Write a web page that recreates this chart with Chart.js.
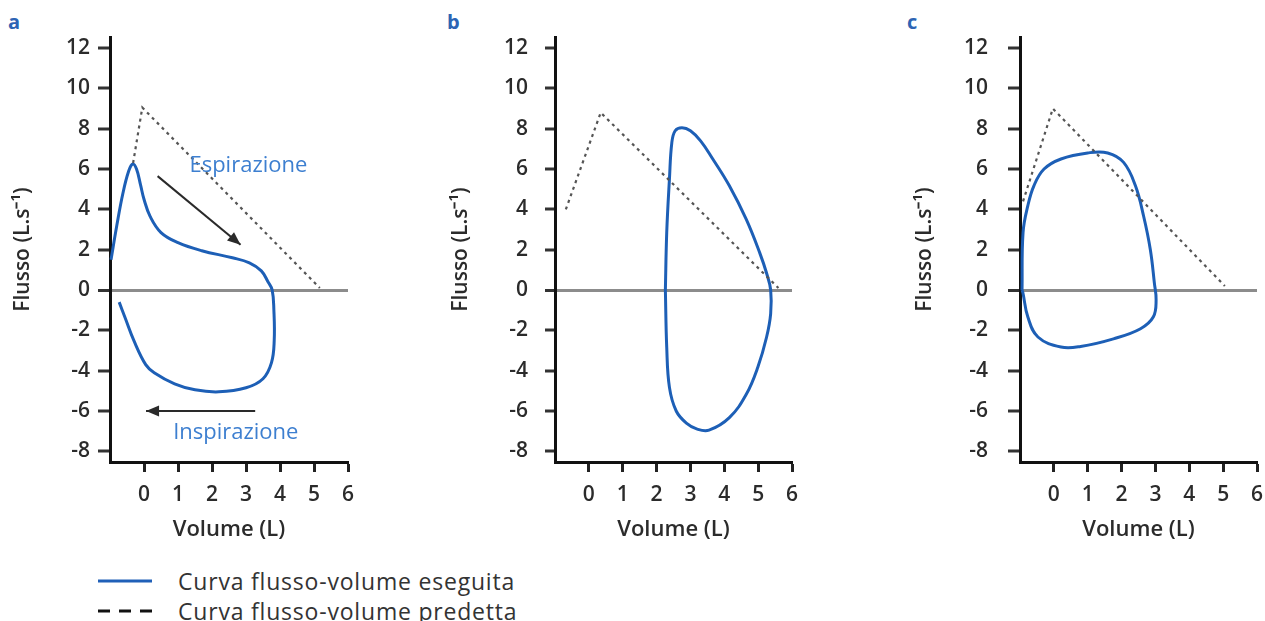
<!DOCTYPE html>
<html><head><meta charset="utf-8">
<script src="https://cdn.jsdelivr.net/npm/chart.js@4.4.1/dist/chart.umd.min.js"></script>
<style>
html,body{margin:0;padding:0;background:#fff;}
body{width:1265px;height:621px;overflow:hidden;position:relative;font-family:"Open Sans",sans-serif;}
canvas{position:absolute;top:0;}
.letter{position:absolute;top:8px;font-weight:bold;font-size:20px;color:#2d64b4;font-family:"Open Sans",sans-serif;}
.legend{position:absolute;left:98px;top:566px;font-size:23px;letter-spacing:0.8px;color:#333;}
.row{display:flex;align-items:center;height:30px;white-space:nowrap;}
.row svg{margin-right:26px;}
</style></head><body>
<div class="letter" style="left:8px">a</div>
<div class="letter" style="left:447px">b</div>
<div class="letter" style="left:907px">c</div>
<canvas id="ca" width="370" height="550" style="left:0px"></canvas>
<canvas id="cb" width="372" height="550" style="left:440px"></canvas>
<canvas id="cc" width="380" height="550" style="left:900px"></canvas>
<div class="legend">
  <div class="row"><svg width="54" height="6"><line x1="0" y1="3" x2="54" y2="3" stroke="#2060b8" stroke-width="3"/></svg><span id="leg1"></span></div>
  <div class="row"><svg width="54" height="6"><line x1="0" y1="3" x2="54" y2="3" stroke="#111" stroke-width="3" stroke-dasharray="12 9"/></svg><span id="leg2"></span></div>
</div>
<script>
// ---- axis ticks ----
const volumeTicks = [0, 1, 2, 3, 4, 5, 6];
const flowTicks = [-8, -6, -4, -2, 0, 2, 4, 6, 8, 10, 12];
const volumeRange = [-1, 6];
const flowRange = [-8.53, 12.55];

// ---- text ----
const panelTitles = ['a', 'b', 'c'];
const xTitle = 'Volume (L)';
const yTitle = 'Flusso (L.s\u207B\u00B9)';
const legendLabels = ['Curva flusso-volume eseguita', 'Curva flusso-volume predetta'];

// ---- panel a ----
const aMeasuredVol  = [-0.97, -0.8, -0.62, -0.45, -0.33, -0.22, -0.1, 0.0, 0.18, 0.5, 1.0, 1.7, 2.6, 3.1, 3.45, 3.65, 3.77, 3.82, 3.83, 3.75, 3.5, 3.0, 2.2, 1.5, 0.9, 0.3, 0.05, -0.3, -0.55, -0.73];
const aMeasuredFlow = [1.5, 3.2, 4.8, 5.9, 6.25, 6.0, 5.2, 4.5, 3.65, 2.85, 2.35, 1.95, 1.6, 1.35, 0.95, 0.4, 0.0, -1.0, -2.5, -3.6, -4.4, -4.85, -5.05, -4.95, -4.65, -4.1, -3.7, -2.5, -1.4, -0.6];
const aPredVol  = [-0.32, -0.05, 5.17];
const aPredFlow = [6.3, 9.05, 0.1];

// ---- panel b ----
const bMeasuredVol  = [2.26, 2.3, 2.38, 2.45, 2.55, 2.75, 3.0, 3.3, 3.66, 4.15, 4.65, 5.05, 5.25, 5.37, 5.37, 5.25, 4.99, 4.65, 4.15, 3.55, 3.2, 2.88, 2.58, 2.38, 2.3, 2.26];
const bMeasuredFlow = [0.0, 2.85, 5.5, 7.3, 7.9, 8.05, 7.9, 7.4, 6.5, 5.17, 3.5, 1.83, 0.83, 0.0, -1.17, -2.33, -3.83, -5.17, -6.33, -6.95, -6.9, -6.6, -6.0, -4.83, -2.83, 0.0];
const bPredVol  = [-0.68, 0.35, 5.6];
const bPredFlow = [4.0, 8.8, 0.1];

// ---- panel c ----
const cMeasuredVol  = [-0.94, -0.91, -0.77, -0.59, -0.29, 0.21, 1.0, 1.59, 2.06, 2.41, 2.65, 2.85, 2.97, 3.02, 2.94, 2.56, 1.76, 0.79, 0.21, -0.47, -0.77, -0.91, -0.94];
const cMeasuredFlow = [0.0, 2.85, 4.17, 5.17, 6.0, 6.5, 6.8, 6.8, 6.33, 5.17, 3.67, 2.0, 0.33, -0.5, -1.33, -1.92, -2.42, -2.8, -2.83, -2.33, -1.33, -0.17, 0.0];
const cPredVol  = [-0.91, -0.03, 5.05];
const cPredFlow = [4.4, 9.0, 0.2];

// ---- annotations (panel a) ----
const arrowNames = ['Espirazione', 'Inspirazione'];
const arrowStartVol  = [0.4, 3.27];
const arrowStartFlow = [5.65, -6.0];
const arrowEndVol    = [2.84, 0.06];
const arrowEndFlow   = [2.25, -6.0];
const arrowLabelVol  = [3.07, 2.7];
const arrowLabelFlow = [6.15, -7.1];

document.getElementById('leg1').textContent = legendLabels[0];
document.getElementById('leg2').textContent = legendLabels[1];

const BLUE = '#1d5fb6';
const pts = (xs, ys) => xs.map((x, i) => ({x: x, y: ys[i]}));

Chart.defaults.font.family = "'Open Sans', sans-serif";

const annotPlugin = {
  id: 'annot',
  afterDatasetsDraw(chart, args, opts) {
    if (!opts || !opts.enabled) return;
    const ctx = chart.ctx, xs = chart.scales.x, ys = chart.scales.y;
    ctx.save();
    for (let i = 0; i < arrowNames.length; i++) {
      const x1 = xs.getPixelForValue(arrowStartVol[i]), y1 = ys.getPixelForValue(arrowStartFlow[i]);
      const x2 = xs.getPixelForValue(arrowEndVol[i]), y2 = ys.getPixelForValue(arrowEndFlow[i]);
      const ang = Math.atan2(y2 - y1, x2 - x1);
      const L = 13, W = 5.5;
      ctx.fillStyle = '#2a2a2a';
      ctx.beginPath();
      ctx.moveTo(x2, y2);
      ctx.lineTo(x2 - L * Math.cos(ang) + W * Math.sin(ang), y2 - L * Math.sin(ang) - W * Math.cos(ang));
      ctx.lineTo(x2 - L * Math.cos(ang) - W * Math.sin(ang), y2 - L * Math.sin(ang) + W * Math.cos(ang));
      ctx.closePath();
      ctx.fill();
      ctx.fillStyle = '#3d7fd0';
      ctx.font = "22px 'Open Sans', sans-serif";
      ctx.textAlign = 'center';
      ctx.textBaseline = 'middle';
      ctx.fillText(arrowNames[i], xs.getPixelForValue(arrowLabelVol[i]), ys.getPixelForValue(arrowLabelFlow[i]));
    }
    ctx.restore();
  }
};

const panels = [
  {id: 'ca', mv: aMeasuredVol, mf: aMeasuredFlow, pv: aPredVol, pf: aPredFlow, axisW: 110, titlePad: 10, tickLen: 12, tickPad: 8, padR: 22, annot: true},
  {id: 'cb', mv: bMeasuredVol, mf: bMeasuredFlow, pv: bPredVol, pf: bPredFlow, axisW: 115, titlePad: 8, tickLen: 10, tickPad: 17, padR: 20, annot: false},
  {id: 'cc', mv: cMeasuredVol, mf: cMeasuredFlow, pv: cPredVol, pf: cPredFlow, axisW: 120, titlePad: 12, tickLen: 12, tickPad: 20, padR: 23, annot: false}
];

panels.forEach(p => {
  const datasets = [
    {label: legendLabels[1], data: pts(p.pv, p.pf), showLine: true, borderColor: '#555', borderWidth: 2.2, borderDash: [3, 4], pointRadius: 0, tension: 0, clip: false},
    {label: legendLabels[0], data: pts(p.mv, p.mf), showLine: true, borderColor: BLUE, borderWidth: 3, pointRadius: 0, tension: 0.4, clip: false}
  ];
  if (p.annot) {
    for (let i = 0; i < arrowNames.length; i++) {
      datasets.push({label: arrowNames[i], data: [{x: arrowStartVol[i], y: arrowStartFlow[i]}, {x: arrowEndVol[i], y: arrowEndFlow[i]}], showLine: true, borderColor: '#2a2a2a', borderWidth: 2, pointRadius: 0, tension: 0});
    }
  }
  new Chart(document.getElementById(p.id), {
    type: 'scatter',
    data: {datasets},
    plugins: [annotPlugin],
    options: {
      responsive: false,
      animation: false,
      events: [],
      layout: {padding: {top: 37, left: 0, right: p.padR, bottom: 0}},
      plugins: {legend: {display: false}, tooltip: {enabled: false}, annot: {enabled: p.annot}},
      scales: {
        x: {
          type: 'linear', min: volumeRange[0], max: volumeRange[1],
          afterBuildTicks: s => { s.ticks = volumeTicks.map(v => ({value: v})); },
          afterFit: s => { s.height = 88; },
          border: {display: true, color: '#111', width: 3},
          grid: {drawOnChartArea: false, drawTicks: true, tickLength: 10, tickWidth: 3, tickColor: '#222'},
          ticks: {color: '#2b2b2b', font: {size: 21, weight: '600'}, padding: 10, maxRotation: 0, autoSkip: false},
          title: {display: true, text: xTitle, color: '#2b2b2b', font: {size: 22, weight: '600'}, padding: {top: 0, bottom: 7}}
        },
        y: {
          type: 'linear', min: flowRange[0], max: flowRange[1],
          afterBuildTicks: s => { s.ticks = flowTicks.map(v => ({value: v})); },
          afterFit: s => { s.width = p.axisW; },
          border: {display: true, color: '#111', width: 3},
          grid: {
            drawOnChartArea: true, drawTicks: true, tickLength: p.tickLen, tickWidth: 3, tickColor: '#333',
            color: c => (c.tick && c.tick.value === 0) ? '#8c8c8c' : 'rgba(0,0,0,0)',
            lineWidth: c => (c.tick && c.tick.value === 0) ? 3 : 0
          },
          ticks: {color: '#2b2b2b', font: {size: 21, weight: '600'}, padding: p.tickPad, autoSkip: false},
          title: {display: true, text: yTitle, color: '#2b2b2b', font: {size: 21, weight: '600'}, padding: {top: p.titlePad, bottom: 0}}
        }
      }
    }
  });
});
</script>
</body></html>
